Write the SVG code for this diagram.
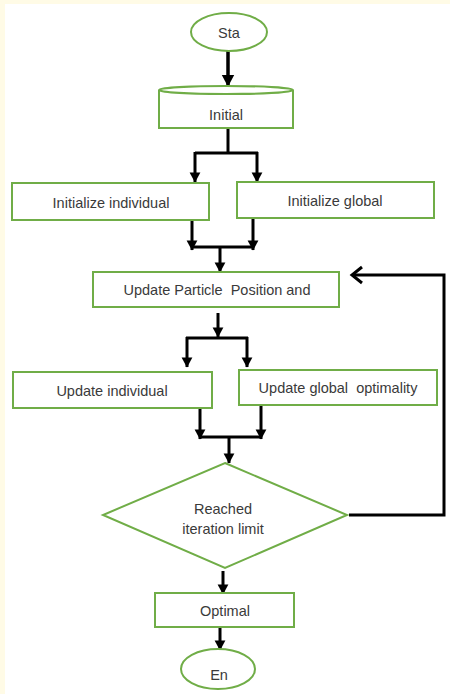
<svg xmlns="http://www.w3.org/2000/svg" width="450" height="694" viewBox="0 0 450 694">
<defs>
<marker id="ah" markerWidth="4" markerHeight="4" refX="3.2" refY="2" orient="auto" markerUnits="strokeWidth">
<path d="M0,0.2 L3.4,2 L0,3.8 Z" fill="#000"/>
</marker>
<style>
.n{fill:#fff;stroke:#70ad47;stroke-width:2}
.t{font-family:"Liberation Sans",Arial,sans-serif;font-size:14.5px;fill:#3a3a3a;text-anchor:middle}
.c{fill:none;stroke:#000;stroke-width:3;stroke-linejoin:miter}
.a{marker-end:url(#ah)}
</style>
</defs>
<rect x="0" y="0" width="450" height="694" fill="#fff"/>
<rect x="0" y="0" width="450" height="4" fill="#fffbe6"/>
<rect x="0" y="0" width="5" height="694" fill="#fffbe6"/>
<g id="connectors">
<path class="c a" d="M228,51 V86" style="stroke-width:3.5"/>
<path class="c" d="M228,128 V153"/>
<path class="c" d="M195,153 H258"/>
<path class="c a" d="M195,152 V182"/>
<path class="c a" d="M257,152 V182"/>
<path class="c a" d="M192,220 V250"/>
<path class="c a" d="M253,218 V250"/>
<path class="c" d="M191,247 H254"/>
<path class="c a" d="M220,247 V272"/>
<path class="c a" d="M218,313 V337"/>
<path class="c" d="M186,338 H248"/>
<path class="c a" d="M187,337 V367"/>
<path class="c a" d="M247,337 V367"/>
<path class="c a" d="M200,408 V439"/>
<path class="c a" d="M261,405 V439"/>
<path class="c" d="M199,437 H262"/>
<path class="c a" d="M229,437 V463"/>
<path class="c" d="M349,515 H444 V275 H352"/>
<path class="c" d="M362,267 L352,275 L362,283"/>
<path class="c a" d="M223,571 V594"/>
<path class="c a" d="M220,627 V650"/>
</g>
<g id="start">
<ellipse class="n" cx="229" cy="32" rx="38" ry="19"/>
<text class="t" x="229" y="38">Sta</text>
</g>
<g id="initial">
<path class="n" d="M159,90 V128 H293 V90"/>
<ellipse class="n" cx="226" cy="90" rx="67" ry="4"/>
<text class="t" x="226" y="120">Initial</text>
</g>
<g id="init-individual">
<rect class="n" x="12" y="183" width="197" height="37"/>
<text class="t" x="111" y="208">Initialize individual</text>
</g>
<g id="init-global">
<rect class="n" x="237" y="182" width="197" height="36"/>
<text class="t" x="335" y="206">Initialize global</text>
</g>
<g id="update-position">
<rect class="n" x="93" y="272" width="246" height="35"/>
<text class="t" x="217" y="295" xml:space="preserve">Update Particle  Position and</text>
</g>
<g id="update-individual">
<rect class="n" x="13" y="372" width="199" height="36"/>
<text class="t" x="112" y="396">Update individual</text>
</g>
<g id="update-global">
<rect class="n" x="239" y="370" width="198" height="35"/>
<text class="t" x="338" y="393" xml:space="preserve">Update global  optimality</text>
</g>
<g id="decision">
<polygon class="n" points="225,463 347,515 225,568 103,515"/>
<text class="t" x="223" y="514">Reached</text>
<text class="t" x="223" y="534">iteration limit</text>
</g>
<g id="optimal">
<rect class="n" x="155" y="593" width="139" height="34"/>
<text class="t" x="225" y="616">Optimal</text>
</g>
<g id="end">
<ellipse class="n" cx="218" cy="669" rx="37" ry="20"/>
<text class="t" x="219" y="680">En</text>
</g>
</svg>
